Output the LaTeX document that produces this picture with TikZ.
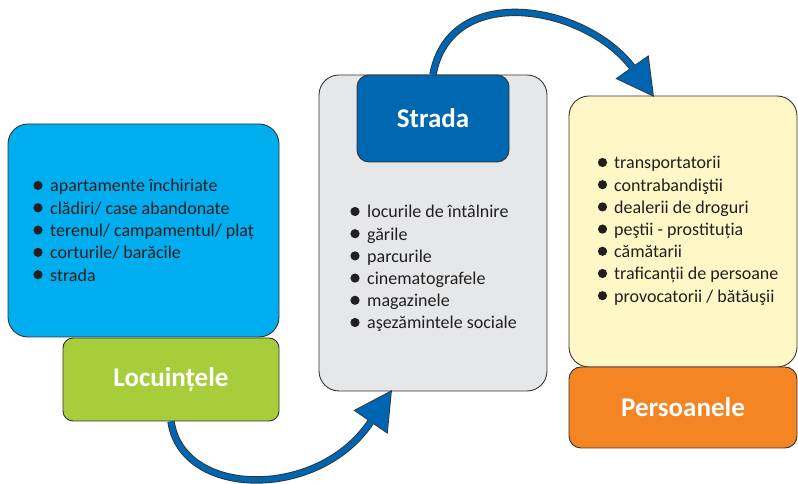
\documentclass[tikz,border=0pt]{standalone}
\usepackage{fontspec}
\setmainfont{Carlito}
\usetikzlibrary{calc}
\definecolor{cyanbox}{HTML}{00AEEF}
\definecolor{greenbox}{HTML}{A7CE3A}
\definecolor{graybox}{HTML}{E6E7E8}
\definecolor{stradablue}{HTML}{0067B1}
\definecolor{yellowbox}{HTML}{FFF8C6}
\definecolor{orangebox}{HTML}{F58423}
\definecolor{arrowblue}{HTML}{0065B0}
\definecolor{outline}{HTML}{333333}
\definecolor{textdark}{HTML}{231F20}
\begin{document}
\begin{tikzpicture}[x=1pt,y=1pt,
  box/.style={draw=outline, line width=0.9pt},
  item/.style={anchor=base west, inner sep=0pt, font=\fontsize{18}{22}\selectfont, text=textdark},
  title/.style={text=white, font=\fontsize{27}{32}\selectfont\bfseries},
  bulletdot/.style={fill=textdark},
  shaftout/.style={line width=7.4pt, draw=outline},
  shaftin/.style={line width=5.6pt, draw=arrowblue},
  headout/.style={draw=outline, fill=outline, line width=1.6pt, line join=miter},
  headin/.style={fill=arrowblue}
]
\useasboundingbox (0,0) rectangle (798,484);
% left
\node[box, fill=cyanbox, rounded corners=20pt, minimum width=271pt, minimum height=213pt] (locbox) at (143.5,253.5) {};
\node[box, fill=greenbox, rounded corners=10pt, minimum width=216pt, minimum height=83pt, title] (loc) at (171,104.5) {Locuințele};
% middle
\node[box, fill=graybox, rounded corners=20pt, minimum width=228pt, minimum height=316pt] (gray) at (433,251) {};
\node[box, fill=stradablue, rounded corners=12pt, minimum width=152pt, minimum height=87pt, title] (strada) at (433,365.5) {Strada};
% right
\node[box, fill=yellowbox, rounded corners=20pt, minimum width=228pt, minimum height=271pt] (yel) at (683,252.5) {};
\node[box, fill=orangebox, rounded corners=12pt, minimum width=228pt, minimum height=81pt, title] (pers) at (683,76.5) {Persoanele};
% lists
\foreach \t [count=\i] in {apartamente închiriate, clădiri/ case abandonate, terenul/ campamentul/ plaț, corturile/ barăcile, strada}{
  \node[item] (la\i) at (50,{292-22.3*(\i-1)}) {\t};
  \fill[bulletdot] ($(la\i.base west)+(-12,6.5)$) circle (4.6pt);
}
\foreach \t [count=\i] in {locurile de întâlnire, gările, parcurile, cinematografele, magazinele, aşezămintele sociale}{
  \node[item] (lb\i) at (367,{266-22.2*(\i-1)}) {\t};
  \fill[bulletdot] ($(lb\i.base west)+(-12,6.5)$) circle (4.6pt);
}
\foreach \t [count=\i] in {transportatorii, contrabandiştii, dealerii de droguri, peştii - prostituția, cămătarii, traficanții de persoane, provocatorii / bătăuşii}{
  \node[item] (lc\i) at (614,{315-22.2*(\i-1)}) {\t};
  \fill[bulletdot] ($(lc\i.base west)+(-11.5,6.5)$) circle (4.6pt);
}
% top arrow
\coordinate (ta) at (strada.north);
\coordinate (tb) at ([xshift=-30pt]yel.north);
\coordinate (tm) at ($(tb)+(-20.5,28)$);
\coordinate (th1) at ($(tb)+(-36,17)$);
\coordinate (th2) at ($(tb)+(-5,39)$);
\draw[shaftout] (ta) .. controls +(17,93) and +(-47.5,63) .. (tm);
\path[headout] (tb) -- (th1) -- (th2) -- cycle;
\draw[shaftin] (ta) .. controls +(17,93) and +(-47.5,63) .. (tm);
\fill[headin] (tb) -- (th1) -- (th2) -- cycle;
% bottom arrow
\coordinate (ba) at (loc.south);
\coordinate (bb) at ([xshift=-42pt]gray.south);
\coordinate (bm) at ($(bb)+(-20,-30)$);
\coordinate (bh1) at ($(bb)+(-36,-19)$);
\coordinate (bh2) at ($(bb)+(-4,-41)$);
\draw[shaftout] (ba) .. controls +(11,-77) and +(-52,-79) .. (bm);
\path[headout] (bb) -- (bh1) -- (bh2) -- cycle;
\draw[shaftin] (ba) .. controls +(11,-77) and +(-52,-79) .. (bm);
\fill[headin] (bb) -- (bh1) -- (bh2) -- cycle;
\end{tikzpicture}
\end{document}
